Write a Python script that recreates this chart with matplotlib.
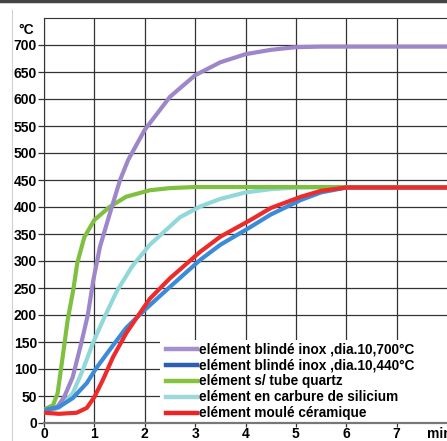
import matplotlib
matplotlib.use("Agg")
import matplotlib.pyplot as plt
from matplotlib.lines import Line2D
from matplotlib.patches import Rectangle

plt.rcParams['font.family'] = ['Liberation Sans', 'DejaVu Sans']
plt.rcParams['font.weight'] = 'bold'

# temperature curves (time in min, temperature in °C)
t_inox700 = [0, 0.25, 0.4, 0.57, 0.74, 0.87, 0.98, 1.11, 1.31, 1.51, 1.67, 2.0, 2.5, 3.0, 3.5, 4.0, 4.5, 5.0, 5.5, 6.0, 8.0]
T_inox700 = [22, 28, 48, 85, 148, 200, 265, 326, 389, 450, 487, 543, 604, 644, 668, 683, 691, 696, 697, 697, 697]

t_inox440 = [0, 0.3, 0.57, 0.85, 1.04, 1.3, 1.63, 1.96, 2.24, 2.5, 3.1, 3.5, 4.1, 4.5, 5.1, 5.5, 6.0, 8.0]
T_inox440 = [24, 30, 46, 74, 102, 135, 176, 206, 230, 252, 302, 330, 363, 386, 413, 427, 436, 436]

t_quartz = [0, 0.18, 0.27, 0.37, 0.47, 0.58, 0.66, 0.8, 1.0, 1.3, 1.63, 2.1, 2.5, 3.0, 4.0, 8.0]
T_quartz = [25, 33, 55, 122, 191, 246, 296, 344, 376, 400, 419, 431, 435, 437, 437, 437]

t_carbure = [0, 0.3, 0.57, 0.77, 0.97, 1.2, 1.45, 1.75, 2.1, 2.7, 3.1, 3.5, 4.0, 4.5, 5.0, 6.0, 8.0]
T_carbure = [22, 28, 55, 98, 148, 196, 245, 290, 330, 381, 401, 415, 427, 433, 436, 437, 437]

t_ceram = [0, 0.3, 0.65, 0.85, 1.0, 1.17, 1.37, 1.63, 1.9, 2.1, 2.5, 3.1, 3.5, 4.1, 4.5, 5.1, 5.5, 6.0, 8.0]
T_ceram = [19, 17, 19, 28, 48, 80, 122, 166, 203, 230, 268, 317, 345, 376, 398, 419, 430, 436, 436]

labels = ['elément blindé inox ,dia.10,700°C',
          'elément blindé inox ,dia.10,440°C',
          'elément s/ tube quartz',
          'elément en carbure de silicium',
          'elément moulé céramique']
line_colors = ['#9d87c8', '#3b8bd9', '#80c040', '#93d8d8', '#ee2b2b']
legend_colors = ['#a490cc', '#2c5fb0', '#86c43f', '#9fd8da', '#ee2222']

fig = plt.figure(figsize=(4.47, 4.41), dpi=100)
ax = fig.add_axes([44/447, 18/441, 1 - 44/447, 405/441])

series = [(t_inox700, T_inox700), (t_inox440, T_inox440), (t_quartz, T_quartz),
          (t_carbure, T_carbure), (t_ceram, T_ceram)]
order = [3, 2, 0, 1, 4]
for i in order:
    t, T = series[i]
    ax.plot(t, T, color=line_colors[i], lw=3.0, solid_capstyle='round', zorder=3)

ax.set_xlim(0, 8)
ax.set_ylim(0, 750)
ax.set_xticks(range(0, 8))
ax.set_yticks(range(0, 701, 50))
ax.grid(True, color='#333333', lw=0.9)
ax.set_axisbelow(True)
ax.tick_params(axis='y', labelsize=10, length=4, width=0.9, color='#333333', pad=1)
ax.tick_params(axis='x', labelsize=10, length=3, width=0.9, color='#333333', pad=0)
ax.spines['right'].set_visible(False)
ax.spines['top'].set_color('#333333')
ax.spines['left'].set_color('#333333')
ax.spines['bottom'].set_color('#777777')
ax.spines['bottom'].set_linewidth(1.6)

ax.text(-0.36, 728, '°C', ha='center', va='center', fontsize=10, fontweight='bold', clip_on=False)
ax.text(7.6, -8, 'min', ha='left', va='top', fontsize=10, fontweight='bold', clip_on=False)

# white panel behind the legend, reaching the right edge
ax.add_patch(Rectangle((2.3, 1), 5.7, 153, facecolor='white', edgecolor='none', zorder=2))

handles = [Line2D([], [], color=c, lw=3.2) for c in legend_colors]
leg = ax.legend(handles, labels, loc='lower left', bbox_to_anchor=(0.295, 0.0),
                fontsize=9.8, frameon=False, borderpad=0.2,
                handlelength=2.3, handletextpad=0.15, labelspacing=0.14,
                borderaxespad=0)
leg.set_zorder(5)

# frame decorations of the original picture
fig.add_artist(Line2D([0, 1], [0.997, 0.997], color='#444444', lw=2.5, transform=fig.transFigure))
fig.add_artist(Line2D([12/447, 12/447], [0, 1 - 10/441], color='#d0d0d0', lw=0.8, transform=fig.transFigure))

fig.savefig('out.png', dpi=100)
